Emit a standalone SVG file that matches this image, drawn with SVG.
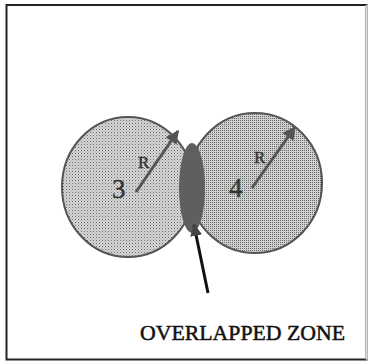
<svg xmlns="http://www.w3.org/2000/svg" width="369" height="362" viewBox="0 0 369 362">
<defs>
<pattern id="dotsL" width="3" height="3" patternUnits="userSpaceOnUse">
<rect width="3" height="3" fill="#d6d6d6"/>
<rect width="1" height="1" fill="#6a6a6a"/>
<rect x="1.5" y="1.5" width="1" height="1" fill="#9a9a9a"/>
</pattern>
<pattern id="dotsR" width="2" height="2" patternUnits="userSpaceOnUse">
<rect width="2" height="2" fill="#cfcfcf"/>
<rect width="1" height="1" fill="#6a6a6a"/>
</pattern>
<marker id="head" viewBox="0 0 10 10" refX="9" refY="5" markerWidth="5" markerHeight="4.5" orient="auto" markerUnits="strokeWidth">
<path d="M0,0 L10,5 L0,10 Z" fill="#555"/>
</marker>
<marker id="headK" viewBox="0 0 10 10" refX="9" refY="5" markerWidth="4" markerHeight="4" orient="auto" markerUnits="strokeWidth">
<path d="M0,0 L10,5 L0,10 Z" fill="#444"/>
</marker>
</defs>
<style>
.circ{stroke:#555;stroke-width:2}
.rad{stroke:#555;stroke-width:3;fill:none}
.lbl{font-family:"Liberation Serif",serif;fill:#333;stroke:#333;stroke-width:0.4}
</style>
<rect id="frame" x="6.5" y="5" width="360" height="354.5" fill="#fff" stroke="#222" stroke-width="2"/>
<line x1="366.5" y1="5" x2="366.5" y2="359.5" stroke="#ddd" stroke-width="2"/>
<g id="circle3">
<ellipse class="circ" cx="128" cy="187" rx="66" ry="70" fill="url(#dotsL)"/>
</g>
<g id="circle4">
<ellipse class="circ" cx="255" cy="183" rx="67" ry="70" fill="url(#dotsR)"/>
</g>
<g id="overlap">
<ellipse cx="192" cy="188" rx="13" ry="45" fill="#5f5f5f"/>
</g>
<g id="connectors">
<line class="rad" x1="136" y1="192" x2="178" y2="131" marker-end="url(#head)"/>
<line class="rad" x1="252" y1="188" x2="295" y2="127" marker-end="url(#head)"/>
<line x1="208" y1="293" x2="194" y2="225" stroke="#111" stroke-width="3" marker-end="url(#headK)"/>
</g>
<g id="labels">
<text class="lbl" x="138" y="168" font-size="17">R</text>
<text class="lbl" x="254" y="163" font-size="17">R</text>
<text class="lbl" x="112" y="198" font-size="27">3</text>
<text class="lbl" x="229" y="197" font-size="27">4</text>
<text x="140" y="340" font-size="22" font-family="'Liberation Serif',serif" fill="#111" stroke="#111" stroke-width="0.5" textLength="205" lengthAdjust="spacingAndGlyphs">OVERLAPPED ZONE</text>
</g>
</svg>
